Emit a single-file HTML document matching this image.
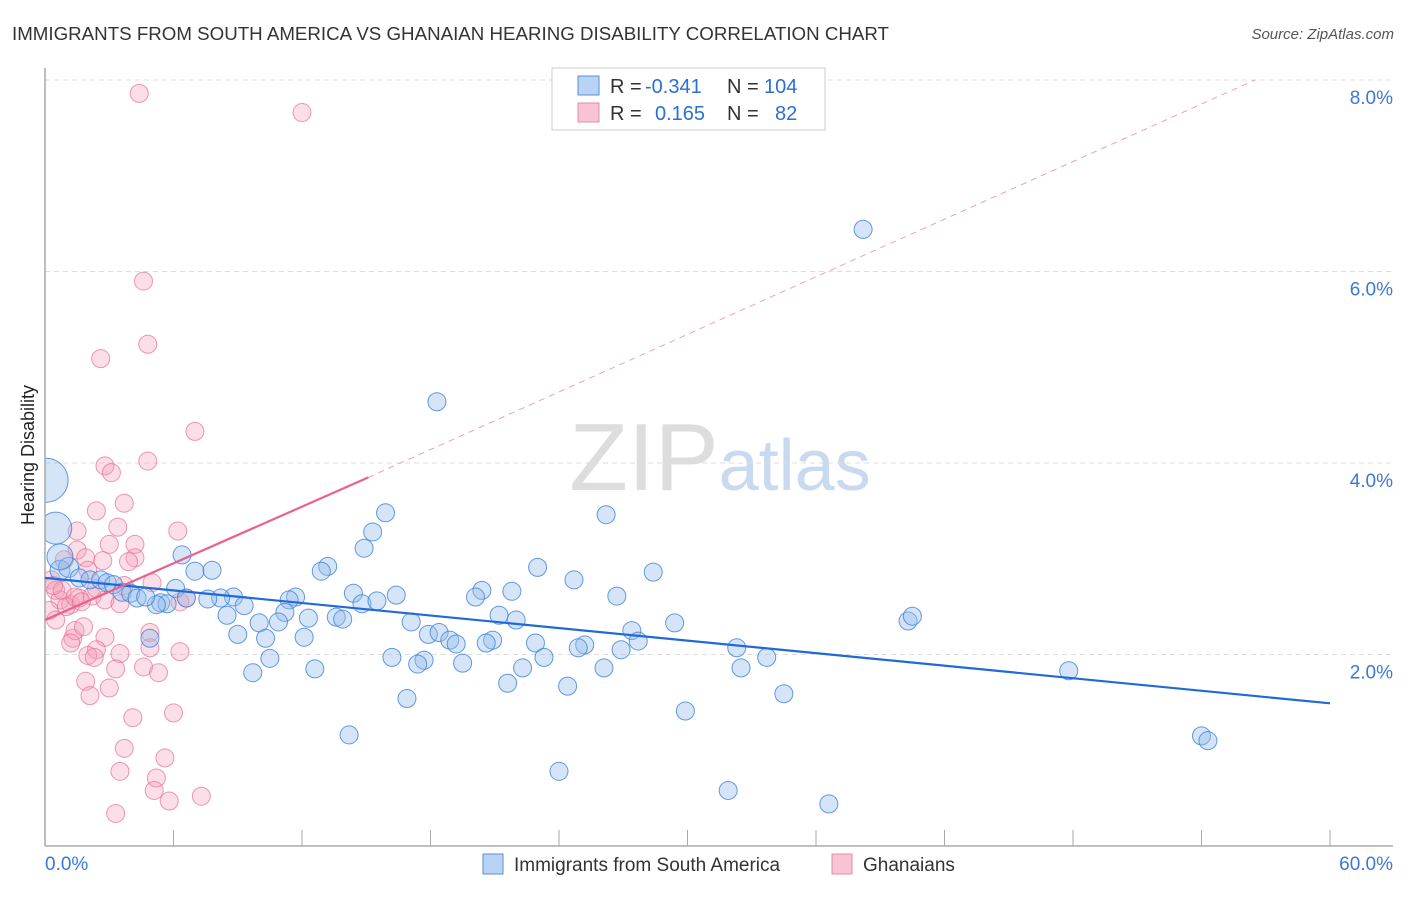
<!DOCTYPE html>
<html><head><meta charset="utf-8"><style>
body{margin:0;background:#fff;font-family:"Liberation Sans",sans-serif;}
svg text{font-family:"Liberation Sans",sans-serif;}
</style></head><body>
<svg id="c" width="1406" height="892">
<text x="12" y="40" font-size="18" fill="#333" textLength="877" lengthAdjust="spacingAndGlyphs">IMMIGRANTS FROM SOUTH AMERICA VS GHANAIAN HEARING DISABILITY CORRELATION CHART</text>
<text x="1394" y="39" font-size="15" fill="#555" text-anchor="end" font-style="italic">Source: ZipAtlas.com</text>
<text x="34" y="455" font-size="18" fill="#222" transform="rotate(-90 34 455)" text-anchor="middle">Hearing Disability</text>
<text x="720" y="490" font-size="96" fill="#ddd" text-anchor="middle" font-family="Liberation Serif">ZIP<tspan fill="#c9daf0" font-family="Liberation Sans" font-size="72">atlas</tspan></text>
<g id="grid"></g>
<svg x="45" y="0" width="1361" height="846" viewBox="45 0 1361 846" overflow="hidden"><g id="pts"></g></svg>
<g id="lines"></g>
<g font-size="20">
<rect x="552" y="68" width="273" height="62" fill="#fff" stroke="#ccc"/>
<rect x="578" y="76" width="21" height="19" fill="#b8d3f3" stroke="#5b8fd6"/>
<rect x="578" y="103" width="21" height="19" fill="#f8c3d2" stroke="#e98aa7"/>
<text x="610" y="93" fill="#333">R =</text><text x="645" y="93" fill="#2a6fd6">-0.341</text>
<text x="727" y="93" fill="#333">N =</text><text x="764" y="93" fill="#2a6fd6">104</text>
<text x="610" y="120" fill="#333">R =</text><text x="655" y="120" fill="#2a6fd6">0.165</text>
<text x="727" y="120" fill="#333">N =</text><text x="775" y="120" fill="#2a6fd6">82</text>
</g>
<g>
<rect x="483" y="854" width="20" height="20" fill="#b8d3f3" stroke="#5b8fd6"/>
<text x="514" y="871" font-size="19" fill="#333">Immigrants from South America</text>
<rect x="832" y="854" width="20" height="20" fill="#f8c3d2" stroke="#e98aa7"/>
<text x="863" y="871" font-size="19" fill="#333">Ghanaians</text>
</g>
</svg>
<script>
const xTicks=[0,6,12,18,24,30,36,42,48,54,60];
const yTicks=[2,4,6,8];
const blueX=[38.2,18.3,15.9,26.2,15.3,14.9,6.4,13.2,23.0,12.9,28.4,24.7,7.0,7.8,6.1,20.4,21.8,20.1,14.4,16.4,26.7,11.7,11.4,8.8,8.2,7.6,6.6,5.4,5.7,5.2,9.3,14.8,15.5,8.5,11.2,21.2,22.0,12.3,13.6,13.9,17.1,10.9,10.0,29.4,40.3,40.5,9.0,17.9,18.4,10.3,12.1,20.9,18.9,19.2,27.4,20.6,22.9,25.2,24.9,27.7,32.3,26.9,23.3,16.2,17.7,17.4,19.5,10.5,33.7,12.6,22.3,26.1,32.5,47.8,9.7,21.6,24.4,16.9,34.5,29.9,14.2,54.0,54.3,24.0,31.9,36.6,0.7,1.1,1.6,2.1,2.6,2.9,3.2,3.6,4.0,4.3,4.7,4.9,0.05,0.5,0.7];
const blueY=[6.44,4.64,3.48,3.46,3.28,3.11,3.04,2.92,2.91,2.87,2.86,2.78,2.87,2.88,2.69,2.67,2.66,2.60,2.64,2.62,2.61,2.60,2.57,2.60,2.59,2.58,2.59,2.54,2.53,2.52,2.51,2.53,2.56,2.41,2.44,2.41,2.36,2.38,2.39,2.37,2.34,2.34,2.33,2.33,2.35,2.40,2.21,2.21,2.23,2.17,2.18,2.15,2.15,2.11,2.25,2.12,2.12,2.10,2.07,2.14,2.07,2.05,1.97,1.97,1.94,1.90,1.91,1.96,1.97,1.85,1.86,1.86,1.86,1.83,1.81,1.70,1.67,1.54,1.59,1.41,1.16,1.15,1.10,0.78,0.58,0.44,2.88,2.91,2.80,2.78,2.78,2.75,2.73,2.65,2.64,2.59,2.60,2.17,3.82,3.32,3.02];
const blueR=[9,9,9,9,9,9,9,9,9,9,9,9,9,9,9,9,9,9,9,9,9,9,9,9,9,9,9,9,9,9,9,9,9,9,9,9,9,9,9,9,9,9,9,9,9,9,9,9,9,9,9,9,9,9,9,9,9,9,9,9,9,9,9,9,9,9,9,9,9,9,9,9,9,9,9,9,9,9,9,9,9,9,9,9,9,9,10,10,9,9,9,9,9,9,9,9,9,9,22,16,13];
const pinkX=[4.4,12.0,4.6,4.8,2.6,7.0,2.8,3.1,4.8,3.7,2.4,3.4,1.5,6.2,3.0,4.2,4.2,1.5,1.9,2.7,2.0,3.9,5.0,0.9,0.3,0.5,0.7,1.2,1.6,2.2,2.8,3.5,0.2,0.5,0.8,2.4,3.7,6.3,6.6,1.3,1.4,1.8,1.2,2.8,4.9,4.9,2.4,2.0,2.3,3.5,6.3,4.6,3.3,5.3,1.9,3.0,2.1,4.1,6.0,3.7,5.6,3.5,5.2,5.1,5.8,7.3,3.3,0.4,1.0,1.4,1.7];
const pinkY=[7.86,7.66,5.90,5.24,5.09,4.33,3.97,3.90,4.02,3.58,3.50,3.33,3.29,3.29,3.15,3.15,3.01,3.09,3.01,2.98,2.88,2.97,2.75,2.99,2.78,2.67,2.57,2.52,2.59,2.61,2.57,2.53,2.46,2.36,2.67,2.69,2.72,2.55,2.59,2.17,2.25,2.29,2.12,2.18,2.23,2.07,2.05,1.99,1.97,2.01,2.03,1.87,1.85,1.81,1.72,1.65,1.57,1.34,1.39,1.02,0.92,0.78,0.71,0.58,0.47,0.52,0.34,2.72,2.50,2.60,2.55];
const blueTrendX=[0,60], blueTrendY=[2.80,1.49];
const pinkTrendX=[0,15.1], pinkTrendY=[2.36,3.85];
const pinkDashX=[15.1,56.5], pinkDashY=[3.85,8.0];
const X=v=>45+v*(1285/60), Y=v=>846-v*95.75;
const NS='http://www.w3.org/2000/svg';
function mk(t,a,p){const e=document.createElementNS(NS,t);for(const k in a)e.setAttribute(k,a[k]);p.appendChild(e);return e;}
const g=document.getElementById('grid');
for(const t of yTicks){
 const l=mk('line',{x1:45,x2:1393,y1:Y(t),y2:Y(t),stroke:'#ddd','stroke-dasharray':'5,4'},g);
 
 
 const tx=mk('text',{x:1393,y:Y(t)+24,'font-size':19,fill:'#3b78d8','text-anchor':'end'},g);tx.textContent=t.toFixed(1)+'%';
 
 
}
for(const t of xTicks){
 const l=mk('line',{x1:X(t),x2:X(t),y1:830,y2:846,stroke:'#aaa'},g);
 
 
}
[[0,'start'],[60,'end']].forEach(([v,a])=>{const tx=mk('text',{x:v?1393:45,y:870,'font-size':19,fill:'#3b78d8','text-anchor':a},g);tx.textContent=v.toFixed(1)+'%';
 
 });
const p=document.getElementById('pts');
pinkX.forEach((x,i)=>{const c=mk('circle',{cx:X(x),cy:Y(pinkY[i]),r:9,fill:'rgba(244,160,186,0.35)',stroke:'rgba(230,110,150,0.7)'},p);
 
 });
blueX.forEach((x,i)=>{const c=mk('circle',{cx:X(x),cy:Y(blueY[i]),r:blueR[i],fill:'rgba(150,190,235,0.4)',stroke:'rgba(60,130,220,0.8)'},p);
 
 });
const L=document.getElementById('lines');
mk('line',{x1:45,x2:45,y1:68,y2:846,stroke:'#aaa','stroke-width':1.5},L);
mk('line',{x1:45,x2:1393,y1:846,y2:846,stroke:'#aaa','stroke-width':1.5},L);
const b=mk('line',{x1:X(blueTrendX[0]),y1:Y(blueTrendY[0]),x2:X(blueTrendX[1]),y2:Y(blueTrendY[1]),stroke:'#1f6ad6','stroke-width':2.2},L);


const pk=mk('line',{x1:X(pinkTrendX[0]),y1:Y(pinkTrendY[0]),x2:X(pinkTrendX[1]),y2:Y(pinkTrendY[1]),stroke:'#e8628d','stroke-width':2.2},L);


const pd=mk('line',{x1:X(pinkDashX[0]),y1:Y(pinkDashY[0]),x2:X(pinkDashX[1]),y2:Y(pinkDashY[1]),stroke:'#eaa0b8','stroke-width':1,'stroke-dasharray':'6,5'},L);


</script>
</body></html>
